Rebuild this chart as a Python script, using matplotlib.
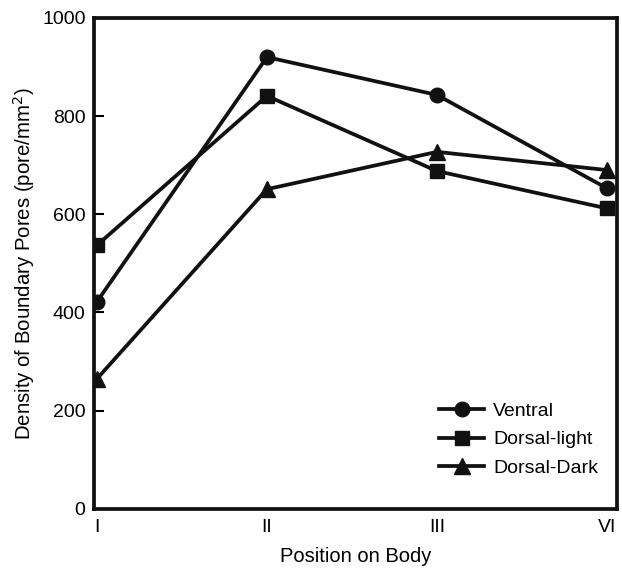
import matplotlib
matplotlib.use("Agg")
import matplotlib.pyplot as plt

positions = ["I", "II", "III", "VI"]
ventral = [422, 920, 843, 653]
dorsal_light = [537, 841, 688, 612]
dorsal_dark = [265, 651, 727, 690]

plt.rcParams['font.family'] = ['Liberation Sans', 'DejaVu Sans']

fig = plt.figure(figsize=(6.22, 5.75), dpi=100)
ax = fig.add_axes([0.151, 0.115, 0.841, 0.854])

x = range(len(positions))
ax.plot(x, ventral, color='#111111', lw=2.7, marker='o', ms=10.5, label='Ventral')
ax.plot(x, dorsal_light, color='#111111', lw=2.7, marker='s', ms=10.5, label='Dorsal-light')
ax.plot(x, dorsal_dark, color='#111111', lw=2.7, marker='^', ms=11.5, label='Dorsal-Dark')

ax.set_xlim(-0.018, 3.06)
ax.set_ylim(0, 1000)
ax.set_xticks(list(x))
ax.set_xticklabels(positions)
ax.set_yticks([0, 200, 400, 600, 800, 1000])
ax.tick_params(axis='y', direction='in', length=7, width=1.5, labelsize=14, pad=6)
ax.tick_params(axis='x', length=0, labelsize=14, pad=7)
for s in ax.spines.values():
    s.set_linewidth(2.7)
    s.set_color('#111111')

ax.set_xlabel('Position on Body', fontsize=14.5, labelpad=8)
ax.set_ylabel('Density of Boundary Pores (pore/mm$^2$)', fontsize=14.7, labelpad=4)

leg = ax.legend(loc='lower right', bbox_to_anchor=(0.997, 0.03), frameon=False,
                fontsize=14, handlelength=2.3, handletextpad=0.45, labelspacing=0.55)

fig.savefig('out.png', dpi=100)
